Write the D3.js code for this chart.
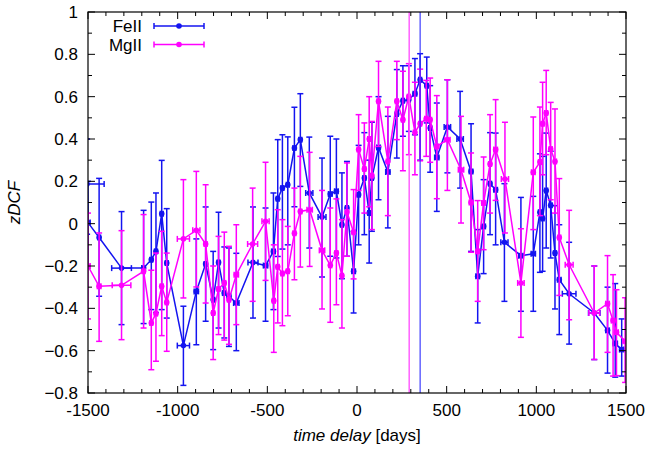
<!DOCTYPE html>
<html><head><meta charset="utf-8">
<script src="https://cdn.jsdelivr.net/npm/d3@7"></script>
<style>body{margin:0;background:#fff}svg{display:block}text{font-family:"Liberation Sans",Arial,sans-serif}</style>
</head><body><svg id="c" width="651" height="453"></svg>
<script>
// ---- FeII zDCF ----
const feDelay = [-1505,-1500,-1438,-1313,-1190,-1147,-1121,-1089,-1061,-968,-896,-844,-802,-772,-740,-714,-673,-580,-510,-466,-442,-416,-386,-349,-316,-266,-195,-149,-115,-84,-56,-19,9,41,68,83,120,172,222,256,289,323,352,389,408,445,504,575,636,673,706,742,773,822,914,983,1020,1035,1055,1080,1104,1128,1183,1323,1397,1440,1476];
const feZdcf = [0.187,0.005,-0.065,-0.21,-0.21,-0.17,-0.131,0.047,-0.186,-0.576,-0.32,-0.19,-0.359,-0.183,-0.328,-0.343,-0.375,-0.183,-0.198,-0.131,0.118,0.168,0.184,0.357,0.397,0.145,0.031,0.14,0.153,-0.005,0.074,-0.225,0.137,0.216,0.05,0.216,0.36,0.244,0.518,0.581,0.586,0.614,0.68,0.652,0.452,0.313,0.457,0.40,0.247,-0.249,-0.013,0.189,0.16,-0.088,-0.151,-0.142,0.054,0.024,0.157,0.087,-0.139,-0.265,-0.331,-0.422,-0.504,-0.566,-0.595];
const feLow = [-0.05,-0.2,-0.343,-0.477,-0.472,-0.406,-0.42,-0.406,-0.446,-0.764,-0.572,-0.461,-0.595,-0.493,-0.54,-0.58,-0.6,-0.446,-0.461,-0.406,-0.155,-0.12,-0.1,0.08,0.176,-0.115,-0.252,-0.154,-0.162,-0.26,-0.154,-0.422,-0.1,-0.052,-0.186,-0.036,0.113,-0.02,0.31,0.413,0.436,0.42,0.30,0.476,0.243,0.058,0.24,0.168,-0.131,-0.469,-0.236,-0.052,-0.1,-0.367,-0.414,-0.414,-0.23,-0.225,-0.115,-0.162,-0.403,-0.524,-0.569,-0.642,-0.706,-0.725,-0.72];
const feHigh = [0.4,0.2,0.214,0.057,0.063,0.102,0.145,0.299,0.071,-0.39,-0.072,0.079,-0.131,0.054,-0.11,-0.115,-0.14,0.079,0.074,0.145,0.397,0.42,0.41,0.55,0.614,0.409,0.31,0.413,0.4,0.24,0.294,-0.036,0.37,0.43,0.3,0.479,0.6,0.507,0.728,0.746,0.746,0.78,0.803,0.787,0.652,0.57,0.68,0.625,0.472,-0.028,0.208,0.43,0.428,0.189,0.124,0.129,0.33,0.318,0.428,0.342,0.085,-0.005,-0.088,-0.2,-0.30,-0.283,-0.45];
const feDx = [95,12,8,55,10,8,8,8,8,34,12,8,8,8,10,10,15,28,12,10,8,8,8,8,8,20,22,10,10,8,8,10,8,8,8,8,10,12,8,8,8,10,8,8,8,12,18,18,10,10,10,8,10,20,12,12,8,8,8,8,8,10,38,32,10,12,12];

// ---- MgII zDCF ----
const mgDelay = [-1500,-1438,-1313,-1190,-1147,-1121,-1089,-1061,-968,-896,-844,-802,-772,-740,-714,-673,-582,-510,-464,-442,-416,-386,-349,-316,-264,-195,-149,-115,-84,-56,-19,9,41,68,83,120,172,222,256,289,323,352,386,408,445,504,580,636,673,706,742,773,825,914,983,1020,1035,1055,1080,1104,1128,1183,1323,1397,1428,1447,1495];
const mgZdcf = [-0.2,-0.296,-0.291,-0.225,-0.469,-0.425,-0.296,-0.372,-0.072,-0.031,-0.096,-0.422,-0.309,-0.28,-0.359,-0.241,-0.096,0.011,-0.364,-0.204,-0.236,-0.225,-0.045,0.058,0.066,-0.126,-0.197,-0.139,-0.246,0.055,-0.041,0.35,0.258,0.40,0.227,0.578,0.294,0.578,0.491,0.60,0.431,0.472,0.496,0.491,0.365,0.397,0.255,0.10,-0.131,0.098,0.282,0.35,0.211,-0.28,0.243,0.291,0.472,0.523,0.353,0.294,-0.065,-0.194,-0.422,-0.378,-0.458,-0.513,-0.556];
const mgLow = [-0.45,-0.556,-0.548,-0.493,-0.69,-0.65,-0.529,-0.603,-0.351,-0.299,-0.375,-0.642,-0.524,-0.55,-0.57,-0.477,-0.367,-0.268,-0.608,-0.469,-0.482,-0.435,-0.265,-0.205,-0.202,-0.403,-0.466,-0.383,-0.493,-0.154,-0.261,0.157,0.05,0.08,-0.028,0.365,0.038,0.397,0.25,0.326,0.231,0.297,0.318,0.29,0.118,0.157,0.003,-0.135,-0.367,-0.123,0.05,0.11,-0.044,-0.537,-0.028,0.038,0.231,0.326,0.113,0.05,-0.339,-0.454,-0.642,-0.608,-0.72,-0.718,-0.75];
const mgHigh = [0.05,-0.044,-0.033,0.043,-0.22,-0.139,-0.036,-0.139,0.208,0.247,0.184,-0.2,-0.06,-0.04,-0.107,-0.005,0.168,0.29,-0.1,0.066,0.019,-0.013,0.168,0.318,0.337,0.157,0.074,0.117,0.019,0.287,0.161,0.515,0.476,0.6,0.483,0.767,0.551,0.767,0.72,0.756,0.668,0.73,0.677,0.688,0.605,0.68,0.507,0.334,0.109,0.315,0.515,0.586,0.479,-0.024,0.504,0.551,0.668,0.724,0.573,0.542,0.213,0.063,-0.2,-0.151,-0.241,-0.312,-0.35];
const mgDx = [12,10,52,8,8,8,8,8,34,20,8,8,8,8,8,12,28,20,8,8,8,8,8,8,15,15,8,8,8,8,8,8,8,8,8,8,8,8,8,8,8,8,8,8,10,15,15,10,10,10,8,10,20,18,10,8,8,8,8,8,8,22,30,10,10,10,12];

// ---- peak lag markers ----
const peakLags = [291, 352];
const peakNames = ["MgII", "FeII"];

// ---- axes ----
const xTicks = [-1500,-1000,-500,0,500,1000,1500];
const yTicks = [-0.8,-0.6,-0.4,-0.2,0,0.2,0.4,0.6,0.8,1];
const seriesNames = ["FeII","MgII"];
const seriesColors = {FeII:"#1414f0", MgII:"#ff00ff"};

const W = 651, H = 453;
const m = {l:88, r:25, t:12, b:60};
const svg = d3.select("#c");
const x = d3.scaleLinear().domain([-1500,1500]).range([m.l, W-m.r]);
const y = d3.scaleLinear().domain([-0.8,1]).range([H-m.b, m.t]);

svg.append("clipPath").attr("id","clip").append("rect")
  .attr("x",m.l).attr("y",m.t).attr("width",W-m.l-m.r).attr("height",H-m.t-m.b);

const plot = svg.append("g").attr("clip-path","url(#clip)");

function build(delay, z, lo, hi, dx){
  return delay.map((d,i)=>({d, z:z[i], lo:lo[i], hi:hi[i], dx:dx[i]}));
}
const series = [
  {name:"FeII", data: build(feDelay, feZdcf, feLow, feHigh, feDx)},
  {name:"MgII", data: build(mgDelay, mgZdcf, mgLow, mgHigh, mgDx)}
];

const cap = 3, sw = 1.5;
series.forEach(s=>{
  const col = seriesColors[s.name];
  const g = plot.append("g").attr("stroke",col).attr("fill",col).attr("stroke-width",sw);
  g.append("path").datum(s.data).attr("fill","none")
    .attr("d", d3.line().x(p=>x(p.d)).y(p=>y(p.z)));
  const e = g.selectAll("g.e").data(s.data).join("g");
  // y error bars
  e.append("line").attr("x1",p=>x(p.d)).attr("x2",p=>x(p.d)).attr("y1",p=>y(p.lo)).attr("y2",p=>y(p.hi));
  e.append("line").attr("x1",p=>x(p.d)-cap).attr("x2",p=>x(p.d)+cap).attr("y1",p=>y(p.lo)).attr("y2",p=>y(p.lo));
  e.append("line").attr("x1",p=>x(p.d)-cap).attr("x2",p=>x(p.d)+cap).attr("y1",p=>y(p.hi)).attr("y2",p=>y(p.hi));
  // x error bars
  e.append("line").attr("x1",p=>x(p.d-p.dx)).attr("x2",p=>x(p.d+p.dx)).attr("y1",p=>y(p.z)).attr("y2",p=>y(p.z));
  e.append("line").attr("x1",p=>x(p.d-p.dx)).attr("x2",p=>x(p.d-p.dx)).attr("y1",p=>y(p.z)-cap).attr("y2",p=>y(p.z)+cap);
  e.append("line").attr("x1",p=>x(p.d+p.dx)).attr("x2",p=>x(p.d+p.dx)).attr("y1",p=>y(p.z)-cap).attr("y2",p=>y(p.z)+cap);
  e.append("circle").attr("cx",p=>x(p.d)).attr("cy",p=>y(p.z)).attr("r",2.8).attr("stroke","none");
});

// peak lag vertical lines
peakLags.forEach((l,i)=>{
  const nm = peakNames[i];
  plot.append("line").attr("x1",x(l)).attr("x2",x(l)).attr("y1",m.t).attr("y2",H-m.b)
    .attr("stroke", nm==="MgII" ? "#ff55ff" : "#2a2aff").attr("stroke-width", nm==="MgII"?1.4:1.1);
});

// axes with inward ticks (mirrored)
const axG = svg.append("g").attr("stroke","#000");
const xMinor = d3.range(-1500,1501,100);
const yMinor = d3.range(-8,11,1).map(v=>v/10);
function tick(x1,y1,x2,y2){ axG.append("line").attr("x1",x1).attr("y1",y1).attr("x2",x2).attr("y2",y2).attr("stroke-width",1); }
xMinor.forEach(v=>{
  const major = xTicks.includes(v); const L = major?7:4;
  tick(x(v),y(-0.8),x(v),y(-0.8)-L); tick(x(v),y(1),x(v),y(1)+L);
});
yMinor.forEach(v=>{
  const major = yTicks.some(t=>Math.abs(t-v)<1e-9); const L = major?7:4;
  tick(x(-1500),y(v),x(-1500)+L,y(v)); tick(x(1500),y(v),x(1500)-L,y(v));
});
axG.append("rect").attr("x",x(-1500)).attr("y",y(1)).attr("width",x(1500)-x(-1500)).attr("height",y(-0.8)-y(1))
  .attr("fill","none").attr("stroke-width",1.2);

const fs = 17;
svg.append("g").selectAll("text").data(xTicks).join("text")
  .attr("x",d=>x(d)).attr("y",y(-0.8)+23).attr("text-anchor","middle").attr("font-size",fs).text(d=>d);
svg.append("g").selectAll("text").data(yTicks).join("text")
  .attr("x",x(-1500)-10).attr("y",d=>y(d)+6).attr("text-anchor","end").attr("font-size",fs).text(d=>d3.format("")(+d.toFixed(1)));

const xl = svg.append("text").attr("x",(x(-1500)+x(1500))/2).attr("y",H-12).attr("text-anchor","middle").attr("font-size",fs);
xl.append("tspan").attr("font-style","italic").text("time delay");
xl.append("tspan").text(" [days]");
svg.append("text").attr("transform",`translate(20,${(y(1)+y(-0.8))/2}) rotate(-90)`).attr("text-anchor","middle")
  .attr("font-size",fs).attr("font-style","italic").text("zDCF");

// legend
seriesNames.forEach((nm,i)=>{
  const cy = 26 + i*18.5, col = seriesColors[nm];
  svg.append("text").attr("x",142).attr("y",cy+6).attr("text-anchor","end").attr("font-size",fs).text(nm);
  const g = svg.append("g").attr("stroke",col).attr("stroke-width",sw);
  g.append("line").attr("x1",154).attr("x2",204).attr("y1",cy).attr("y2",cy);
  g.append("line").attr("x1",154).attr("x2",154).attr("y1",cy-cap).attr("y2",cy+cap);
  g.append("line").attr("x1",204).attr("x2",204).attr("y1",cy-cap).attr("y2",cy+cap);
  g.append("circle").attr("cx",179).attr("cy",cy).attr("r",2.8).attr("fill",col).attr("stroke","none");
});
</script></body></html>
